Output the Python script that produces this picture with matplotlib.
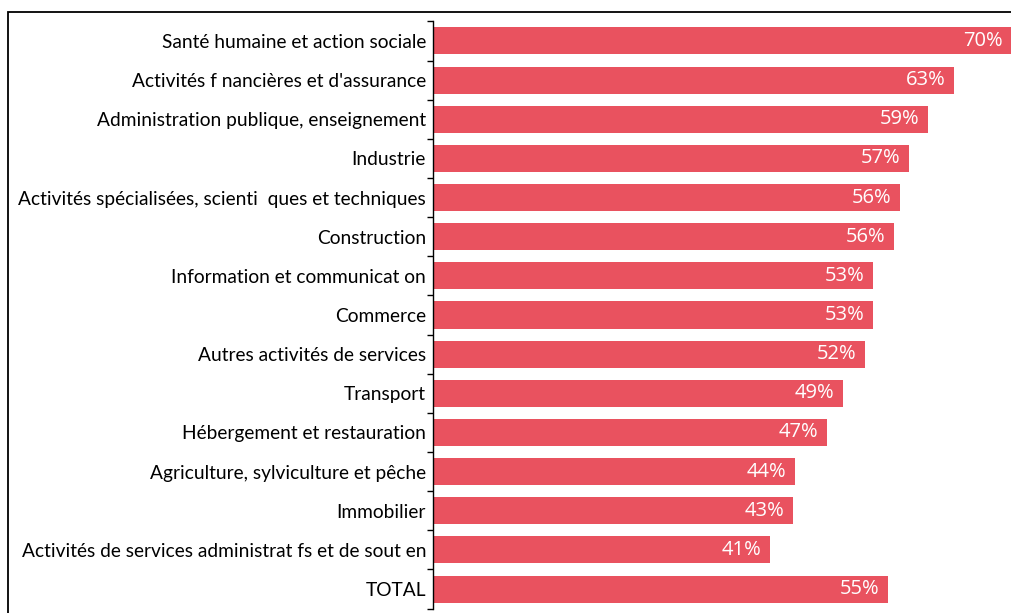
import matplotlib.pyplot as plt
from matplotlib.patches import Rectangle

plt.rcParams['font.family'] = ['Lato', 'DejaVu Sans']

categories = [
    "Santé humaine et action sociale",
    "Activités f nancières et d'assurance",
    "Administration publique, enseignement",
    "Industrie",
    "Activités spécialisées, scienti  ques et techniques",
    "Construction",
    "Information et communicat on",
    "Commerce",
    "Autres activités de services",
    "Transport",
    "Hébergement et restauration",
    "Agriculture, sylviculture et pêche",
    "Immobilier",
    "Activités de services administrat fs et de sout en",
    "TOTAL",
]
# bar lengths; labels as printed
values = [70.0, 63.1, 59.9, 57.6, 56.5, 55.8, 53.3, 53.3, 52.3, 49.6, 47.7, 43.8, 43.6, 40.8, 55.1]
labels = ["70%", "63%", "59%", "57%", "56%", "56%", "53%", "53%", "52%",
          "49%", "47%", "44%", "43%", "41%", "55%"]

bar_color = '#E9525F'

fig = plt.figure(figsize=(10.11, 6.13), dpi=100)
# outer frame (cut off at right and bottom, as in the source)
fig.patches.append(Rectangle((8 / 1011, -0.05), 1.1, 1 - 12 / 613 + 0.05,
                             transform=fig.transFigure, fill=False,
                             edgecolor='black', linewidth=1.3))

ax = fig.add_axes([433 / 1011, 1 - 608.6 / 613, 1 - 433 / 1011, (608.6 - 21.4) / 613])
y = list(range(len(categories)))
ax.barh(y, values, height=0.69, color=bar_color)
ax.set_xlim(0, 70)
ax.set_ylim(len(categories) - 0.5, -0.5)

for yi, v, lab in zip(y, values, labels):
    ax.annotate(lab, (v, yi), xytext=(-6, 0), textcoords='offset points',
                ha='right', va='center', color='white', fontsize=14.5,
                family=['Open Sans', 'DejaVu Sans'])

ax.set_yticks(y)
ax.set_yticklabels(categories, fontsize=13.8)
ax.tick_params(axis='y', length=0, pad=5)
ax.set_yticks([i - 0.5 for i in range(len(categories) + 1)], minor=True)
ax.tick_params(axis='y', which='minor', length=4, width=1, direction='out')
ax.set_xticks([])
for s in ['top', 'right', 'bottom']:
    ax.spines[s].set_visible(False)
ax.spines['left'].set_linewidth(1)

plt.savefig('out.png', dpi=100)
